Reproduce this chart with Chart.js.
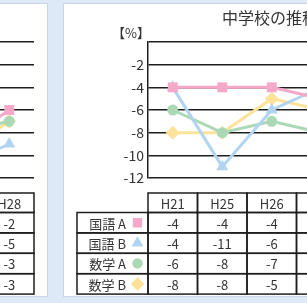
<!DOCTYPE html>
<html><head><meta charset="utf-8">
<script src="https://cdn.jsdelivr.net/npm/chart.js@4/dist/chart.umd.min.js"></script>
<style>
html,body{margin:0;padding:0;width:307px;height:303px;overflow:hidden;background:#dde9f6;position:relative;}
.panel{position:absolute;top:3px;height:294px;box-sizing:border-box;background:#fff;border:1px solid #c6d6e6;}
#lp{left:-200px;width:248px;}
#rp{left:63px;width:400px;}
.cv{position:absolute;top:3px;}
#lc{left:-150px;}
#rc{left:63px;}
</style></head>
<body>
<div class="panel" id="lp"></div>
<div class="panel" id="rp"></div>
<canvas class="cv" id="lc" width="198" height="294"></canvas>
<canvas class="cv" id="rc" width="300" height="294"></canvas>
<script>
// ---- data ----
const seriesNames = ['国語 A','国語 B','数学 A','数学 B'];
// left (elementary) panel – only the last columns are visible
const leftCategories = ['H27','H28'];
const leftKokugoA = [-5,-2];
const leftKokugoB = [-7,-5];
const leftSugakuA = [-4,-3];
const leftSugakuB = [-6,-3];
// right (junior high) panel
const rightTitle = '中学校の推移';
const rightCategories = ['H21','H25','H26','H27'];
const rightKokugoA = [-4,-4,-4,-5];
const rightKokugoB = [-4,-11,-6,-4];
const rightSugakuA = [-6,-8,-7,-8];
const rightSugakuB = [-8,-8,-5,-6];
const rightTicks = [0,-2,-4,-6,-8,-10,-12];
const unitLabel = '【%】';

const colors = ['#f4a9c9','#b1d4f0','#abd9b5','#fde39a'];
const styles = ['rect','triangle','circle','rectRot'];
const radii = [7,7,5.5,7];
const FONT = '"Noto Sans CJK JP","Noto Sans",sans-serif';

function makeDatasets(arrs){
  return arrs.map((d,i)=>({
    label: seriesNames[i], data: d,
    borderColor: colors[i], backgroundColor: colors[i],
    borderWidth: 3, pointStyle: styles[i], pointRadius: radii[i],
    pointBorderWidth: 0, tension: 0
  }));
}

const tablePlugin = {
  id:'dataTable',
  afterDraw(chart, args, opts){
    const {ctx, chartArea} = chart;
    const x = chart.scales.x;
    const cats = chart.data.labels;
    const colW = (chartArea.right - chartArea.left)/cats.length;
    const top = opts.top, hH = opts.headerH, rH = opts.rowH, lw = opts.legendW;
    const legL = chartArea.left - lw;
    ctx.save();
    ctx.strokeStyle = '#1e1e1e'; ctx.lineWidth = 1.5;
    ctx.textAlign = 'center'; ctx.textBaseline = 'middle';
    ctx.font = '13px ' + FONT; ctx.fillStyle = '#333';
    cats.forEach((c,i)=>{
      const cx = x.getPixelForValue(i);
      ctx.strokeRect(cx-colW/2, top, colW, hH);
      ctx.fillText(c, cx, top+hH/2+1);
    });
    chart.data.datasets.forEach((ds,j)=>{
      const y0 = top + hH + j*rH;
      ctx.strokeRect(legL, y0, lw, rH);
      ctx.textAlign = 'right'; ctx.fillStyle = '#333';
      ctx.fillText(ds.label, chartArea.left - 22, y0 + rH/2 + 1);
      ctx.fillStyle = ds.backgroundColor;
      Chart.helpers.drawPoint(ctx, {pointStyle: ds.pointStyle, radius: ds.pointStyle==='circle'?5:6.5, rotation:0, borderWidth:0}, chartArea.left - 10.5, y0 + rH/2);
      ctx.fill();
      ctx.textAlign = 'center'; ctx.fillStyle = '#333';
      ds.data.forEach((v,i)=>{
        const cx = x.getPixelForValue(i);
        ctx.strokeRect(cx-colW/2, y0, colW, rH);
        ctx.fillText(String(v), cx, y0 + rH/2 + 1);
      });
    });
    ctx.restore();
  }
};

const labelPlugin = {
  id:'labels',
  afterDraw(chart, args, opts){
    if(!opts.title) return;
    const {ctx} = chart;
    ctx.save();
    ctx.fillStyle = '#333'; ctx.textBaseline = 'middle';
    ctx.font = '16px ' + FONT; ctx.textAlign = 'left';
    ctx.fillText(opts.title, 159, 15);
    ctx.font = '13px ' + FONT; ctx.textAlign = 'center';
    ctx.fillText(opts.unit, 68, 30);
    ctx.restore();
  }
};

function makeChart(id, cats, arrs, min, max, padRight, title){
  return new Chart(document.getElementById(id), {
    type:'line',
    data:{labels:cats, datasets:makeDatasets(arrs)},
    options:{
      responsive:false, animation:false,
      layout:{padding:{top:39,bottom:119,left:0,right:padRight}},
      plugins:{legend:{display:false}, tooltip:{enabled:false}, title:{display:false},
        dataTable:{top:190, headerH:19.5, rowH:20.4, legendW:71},
        labels:{title:title, unit:unitLabel}},
      scales:{
        x:{type:'category', offset:true, display:false},
        y:{min:min, max:max,
          afterFit(s){ s.width = 85; },
          afterBuildTicks(s){ s.ticks = rightTicks.map(v=>({value: v - (0 - max)})).filter(t=>t.value>=min && t.value<=max); },
          ticks:{stepSize:2, padding:4, color:'#333', font:{family:FONT, size:14},
            callback:(v)=> v===max ? '' : String(v)},
          grid:{color:'#1e1e1e', lineWidth:1.5, drawTicks:false},
          border:{display:true, color:'#1e1e1e', width:1.5}
        }
      }
    },
    plugins:[tablePlugin, labelPlugin]
  });
}

makeChart('lc', leftCategories, [leftKokugoA,leftKokugoB,leftSugakuA,leftSugakuB], -8, 4, 14, null);
makeChart('rc', rightCategories, [rightKokugoA,rightKokugoB,rightSugakuA,rightSugakuB], -12, 0, 17, rightTitle);
</script>
</body></html>
